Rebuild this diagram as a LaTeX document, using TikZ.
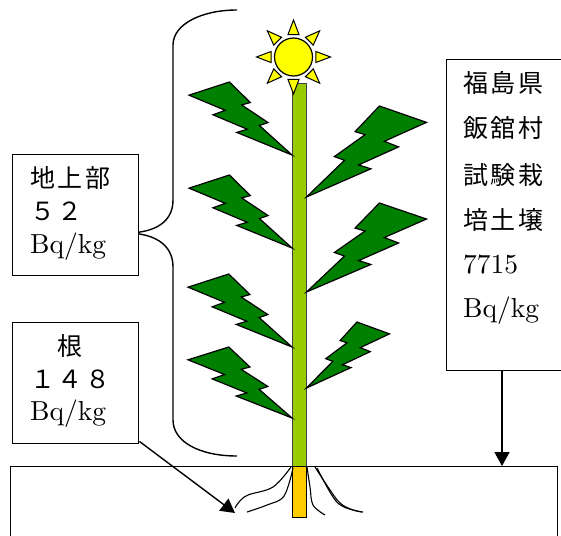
\documentclass[tikz,border=0pt]{standalone}
\usepackage{fontspec}
\newfontfamily\jp{Noto Sans CJK JP}
\newfontfamily\lat{lmroman10-regular}[Extension=.otf]
\usetikzlibrary{arrows.meta}
\definecolor{leafgreen}{RGB}{0,128,0}
\definecolor{stemgreen}{RGB}{153,204,0}
\definecolor{rootgold}{RGB}{255,204,0}
\definecolor{sunyellow}{RGB}{255,255,0}
\newcommand\jk{\kern2.5pt}
\tikzset{
  leafshape/.style={fill=leafgreen, draw=black, line width=1.2pt, line join=miter},
  leaf/.pic={\draw[leafshape] (-0.6078,-1) -- (-0.4046,-0.7185) -- (-0.4884,-0.6853)
      -- (-0.2325,-0.4441) -- (-0.3163,-0.4038) -- (0,0) -- (-0.5365,-0.3095)
      -- (-0.4342,-0.3525) -- (-0.7675,-0.5507) -- (-0.6481,-0.6119) -- (-1,-0.8199) -- cycle;},
  boxline/.style={draw=black, fill=white, line width=1.4pt, rectangle, inner sep=0pt},
  jtext/.style={anchor=base west, inner sep=0pt, font=\jp\fontsize{25}{30}\selectfont},
  ltext/.style={anchor=base west, inner sep=0pt, font=\lat\fontsize{27.5}{30}\selectfont},
  conn/.style={draw=black, line width=1.4pt, -{Triangle[length=14pt,width=15pt]}},
  rootline/.style={draw=black, line width=1.1pt},
  ray/.style={fill=sunyellow, draw=black, line width=1pt, line join=miter},
}
\begin{document}
\begin{tikzpicture}[x=1pt, y=-1pt]
\useasboundingbox (0,0) rectangle (561,535);

% brace along the plant
\draw[line width=1.4pt] (237,10) .. controls (202,10) and (173,24) .. (173,45)
  -- (173,200) .. controls (173,224) and (152,233) .. (126,233)
  .. controls (152,233) and (173,243) .. (173,267)
  -- (173,420) .. controls (173,442) and (200,456) .. (237,456);

% stem and root
\draw[fill=stemgreen, draw=black!75, line width=1pt] (292,83) rectangle (306.5,466);
\draw[fill=rootgold, draw=black, line width=1pt] (292,466) rectangle (306.5,517);

% leaves, left side
\pic (leafL1) [xscale=103, yscale=73] at (292,155) {leaf};
\pic (leafL2) [xscale=103, yscale=73] at (292,248) {leaf};
\pic (leafL3) [xscale=104, yscale=73] at (292,347) {leaf};
\pic (leafL4) [xscale=104, yscale=71] at (292,418) {leaf};
% leaves, right side
\pic (leafR1) [xscale=-120, yscale=91] at (306.5,197) {leaf};
\pic (leafR2) [xscale=-120, yscale=89] at (306.5,292) {leaf};
\pic (leafR3) [xscale=-83, yscale=66] at (306.5,388) {leaf};

% sun
\foreach \a in {0,45,...,315}{
  \draw[ray] ([shift={(\a:37)}]293.5,57) -- ([shift={(\a+14:23)}]293.5,57) -- ([shift={(\a-14:23)}]293.5,57) -- cycle;
}
\draw[fill=sunyellow, draw=black, line width=1.2pt] (293.5,57) circle (19);

% soil
\node[draw=black, line width=1.4pt, rectangle, inner sep=0pt, minimum width=547pt,
      minimum height=90pt, anchor=north west] (soil) at (10,466) {};

% roots
\draw[rootline] plot[smooth, tension=0.6] coordinates {(291,467) (273,487) (248,495) (239,502) (235,508)};
\draw[rootline] plot[smooth, tension=0.6] coordinates {(293,468) (284,496) (267,505) (247,512)};
\draw[rootline] plot[smooth, tension=0.6] coordinates {(307,467) (310,487) (313,505) (325,515)};
\draw[rootline] plot[smooth, tension=0.6] coordinates {(315,467) (328,487) (340,503) (353,510) (363,512)};
\draw[rootline] plot[smooth, tension=0.6] coordinates {(317,468) (333,497) (344,507) (362,512)};
\coordinate (roottip) at (235,513);
\coordinate (rx) at (502,0);

% label boxes
\node[boxline, minimum width=126pt, minimum height=121pt, anchor=north west] (above) at (12,154) {};
\node[jtext] (aboveA) at (30,187) {地\jk 上\jk 部};
\node[jtext] (aboveB) at (30,220) {５\jk ２};
\node[ltext] (aboveC) at (30,253) {Bq/kg};

\node[boxline, minimum width=126pt, minimum height=121pt, anchor=north west] (rootbox) at (12,322) {};
\node[jtext] (rootA) at (30,355) {　\jk 根};
\node[jtext] (rootB) at (30,388) {１\jk ４\jk ８};
\node[ltext] (rootC) at (30,420) {Bq/kg};

\node[boxline, minimum width=130pt, minimum height=311pt, anchor=north west] (soilbox) at (446,59) {};
\node[jtext] (soilA) at (463,92) {福\jk 島\jk 県};
\node[jtext] (soilB) at (463,137) {飯\jk 舘\jk 村};
\node[jtext] (soilC) at (463,184) {試\jk 験\jk 栽};
\node[jtext] (soilD) at (463,229) {培\jk 土\jk 壌};
\node[ltext] (soilE) at (463,273) {7715};
\node[ltext] (soilF) at (463,317) {Bq/kg};

% connectors
\draw[conn] (soilbox.south -| rx) -- (soil.north -| rx);
\draw[conn] ([yshift=3pt]rootbox.south east) -- (roottip);
\end{tikzpicture}
\end{document}
